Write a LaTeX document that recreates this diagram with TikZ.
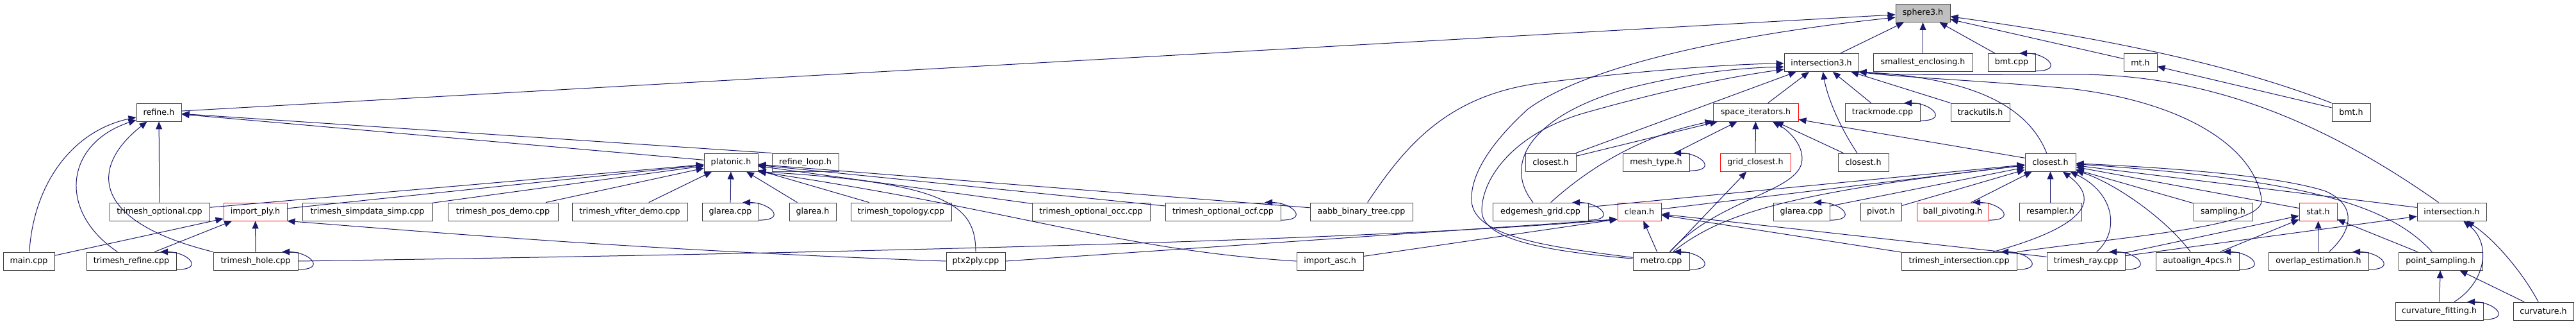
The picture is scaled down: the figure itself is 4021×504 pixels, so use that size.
\documentclass[tikz,border=0pt]{standalone}
\usepackage{fontspec}
\setmainfont{DejaVu Sans}
\usetikzlibrary{arrows.meta,calc}

\definecolor{edgeblue}{HTML}{191970}
\definecolor{rootgray}{HTML}{BFBFBF}
\definecolor{boxred}{HTML}{FF0000}
\definecolor{boxline}{HTML}{404040}

\tikzset{
  filebox/.style={draw=boxline, line width=0.7pt, fill=white, inner sep=0pt,
    minimum height=21pt, font=\fontsize{9.5}{11}\selectfont},
  redbox/.style={draw=boxred},
  rootbox/.style={fill=rootgray},
  inc/.style={draw=edgeblue, line width=0.75pt, -{Triangle[length=9pt,width=7.5pt]}},
}

\newcommand{\filenode}[6][]{%
  \node[filebox,#1,minimum width={(#4-#3)*0.75pt}] (#2) at ({(#3+#4)/2},#5) {#6};}
\newcommand{\selfloop}[1]{%
  \draw[inc] ([yshift=1pt]#1.south east) .. controls +(34pt,0pt) and +(32pt,0pt) .. ([xshift=-19pt]#1.north east);}

\begin{document}
\begin{tikzpicture}[x=0.75pt, y=-0.75pt]
\useasboundingbox (0,0) rectangle (4021,504);
\fill[white] (0,0) rectangle (4021,504);

\filenode[rootbox]{sphere3}{2959}{3044}{20.5}{sphere3.h}

\filenode{isect3}{2785}{2901}{97.5}{intersection3.h}
\filenode{smallenc}{2924}{3079}{97.5}{smallest\_enclosing.h}
\filenode{bmtcpp}{3103}{3177}{97.5}{bmt.cpp}
\filenode{mth}{3315}{3367}{97.5}{mt.h}

\filenode{refine}{213}{283}{175}{refine.h}
\filenode[redbox]{spaceit}{2674}{2807}{175}{space\_iterators.h}
\filenode{trackmode}{2880}{2997}{175}{trackmode.cpp}
\filenode{trackutils}{3045}{3137}{175}{trackutils.h}
\filenode{bmth}{3640}{3700}{175}{bmt.h}

\filenode{platonic}{1099}{1183}{253}{platonic.h}
\filenode{refineloop}{1205}{1309}{253}{refine\_loop.h}
\filenode{closesta}{2381}{2460}{253}{closest.h}
\filenode{meshtype}{2533}{2637}{253}{mesh\_type.h}
\filenode[redbox]{gridclosest}{2685}{2795}{253}{grid\_closest.h}
\filenode{closestb}{2869}{2948}{253}{closest.h}
\filenode{closestc}{3161}{3240}{253}{closest.h}

\filenode{toptional}{171}{327}{330}{trimesh\_optional.cpp}
\filenode[redbox]{importply}{349}{448}{330}{import\_ply.h}
\filenode{simpdata}{472}{675}{330}{trimesh\_simpdata\_simp.cpp}
\filenode{posdemo}{699}{871}{330}{trimesh\_pos\_demo.cpp}
\filenode{vfiter}{893}{1073}{330}{trimesh\_vfiter\_demo.cpp}
\filenode{glareaa}{1096}{1184}{330}{glarea.cpp}
\filenode{glareah}{1232}{1305}{330}{glarea.h}
\filenode{topology}{1328}{1485}{330}{trimesh\_topology.cpp}
\filenode{occ}{1611}{1795}{330}{trimesh\_optional\_occ.cpp}
\filenode{ocf}{1819}{1999}{330}{trimesh\_optional\_ocf.cpp}
\filenode{aabb}{2045}{2205}{330}{aabb\_binary\_tree.cpp}
\filenode{edgegrid}{2330}{2479}{330}{edgemesh\_grid.cpp}
\filenode[redbox]{clean}{2525}{2593}{330}{clean.h}
\filenode{glareab}{2768}{2856}{330}{glarea.cpp}
\filenode{pivot}{2904}{2968}{330}{pivot.h}
\filenode[redbox]{ballpiv}{2992}{3104}{330}{ball\_pivoting.h}
\filenode{resampler}{3152}{3249}{330}{resampler.h}
\filenode{sampling}{3424}{3516}{330}{sampling.h}
\filenode[redbox]{stat}{3589}{3648}{330}{stat.h}
\filenode{isect}{3773}{3881}{330}{intersection.h}

\filenode{maincpp}{5}{85}{407}{main.cpp}
\filenode{trefine}{135}{275}{407}{trimesh\_refine.cpp}
\filenode{thole}{333}{465}{407}{trimesh\_hole.cpp}
\filenode{ptx}{1477}{1569}{407}{ptx2ply.cpp}
\filenode{importasc}{2024}{2128}{407}{import\_asc.h}
\filenode{metro}{2549}{2637}{407}{metro.cpp}
\filenode{tisect}{2968}{3148}{407}{trimesh\_intersection.cpp}
\filenode{tray}{3195}{3317}{407}{trimesh\_ray.cpp}
\filenode{autoalign}{3365}{3495}{407}{autoalign\_4pcs.h}
\filenode{overlap}{3541}{3697}{407}{overlap\_estimation.h}
\filenode{psampling}{3744}{3875}{407}{point\_sampling.h}

\filenode{curvfit}{3739}{3876}{485}{curvature\_fitting.h}
\filenode{curvature}{3923}{4017}{485}{curvature.h}

\draw[inc] (maincpp) .. controls (52,290) and (110,205) .. (refine);
\draw[inc] (trefine) .. controls (90,330) and (100,225) .. (refine);
\draw[inc] (thole.north west) .. controls (140,345) and (140,260) .. (refine);
\draw[inc] (toptional) -- (refine);
\draw[inc] (platonic) -- (refine);
\draw[inc] (refineloop.north west) -- (refine);
\draw[inc] (refine) -- (sphere3);

\foreach \src in {maincpp,trefine,thole}
  \draw[inc] (\src) -- (importply);
\draw[inc] (ptx.west) .. controls (1000,390) and (650,360) .. (importply.south east);

\foreach \src in {toptional,importply,simpdata,posdemo,vfiter,glareaa,glareah,topology,occ,ocf,aabb}
  \draw[inc] (\src) -- (platonic);
\draw[inc] (importasc.west) .. controls (1750,390) and (1600,330) .. (platonic.south east);
\draw[inc] (ptx.north) .. controls (1523,320) and (1480,285) .. (platonic.south east);

\draw[inc] (thole.east) .. controls (1500,392) and (2200,370) .. ([yshift=2pt]clean.south west);
\draw[inc] (ptx.east) -- ([yshift=2pt]clean.south west);
\draw[inc] (importasc) -- ([yshift=2pt]clean.south west);
\foreach \src in {metro,tisect,tray}
  \draw[inc] (\src) -- (clean);

\foreach \src in {clean,edgegrid,glareab,pivot,ballpiv,resampler,sampling,stat,isect}
  \draw[inc] (\src) -- (closestc);
\draw[inc] (metro) .. controls (2690,330) and (2800,300) .. (closestc);
\draw[inc] (tisect) .. controls (3230,360) and (3290,320) .. (closestc);
\draw[inc] (tray) .. controls (3310,360) and (3300,300) .. (closestc);
\draw[inc] (autoalign) .. controls (3380,340) and (3300,285) .. (closestc);
\draw[inc] (psampling) .. controls (3730,320) and (3600,280) .. (closestc);
\draw[inc] (overlap) .. controls (3672,360) and (3680,320) .. (3630,298)
  .. controls (3560,275) and (3400,262) .. (closestc);

\foreach \src in {overlap,psampling,tray,autoalign}
  \draw[inc] (\src) -- (stat);

\draw[inc] (tray) -- (isect);
\draw[inc] (curvfit) .. controls (3880,440) and (3890,380) .. (isect);
\draw[inc] (curvature) .. controls (3935,420) and (3890,370) .. (isect);
\draw[inc] (curvfit) -- (psampling);
\draw[inc] (curvature) -- (psampling);

\draw[inc] (isect) .. controls (3600,170) and (3420,116) .. (3240,116)
  .. controls (3080,116) and (2960,118) .. (isect3.south east);
\draw[inc] (tisect.north east) .. controls (3350,365) and (3538,352) .. (3530,310)
  .. controls (3520,235) and (3420,160) .. (3230,138)
  .. controls (3100,126) and (2960,120) .. (isect3.south east);
\draw[inc] (closestc) .. controls (3165,165) and (3080,122) .. (isect3.south east);
\foreach \src in {trackmode,trackutils,spaceit,closesta}
  \draw[inc] (\src) -- (isect3);
\draw[inc] (closestb) .. controls (2870,195) and (2852,150) .. (isect3);
\draw[inc] (edgegrid) .. controls (2345,255) and (2390,180) .. (2540,138)
  .. controls (2630,115) and (2710,106) .. ([yshift=-5pt]isect3.west);
\draw[inc] (metro) .. controls (2420,392) and (2315,375) .. (2313,330)
  .. controls (2312,280) and (2360,210) .. (2470,177)
  .. controls (2600,140) and (2710,118) .. ([yshift=-8pt]isect3.west);
\draw[inc] (aabb) .. controls (2195,225) and (2260,150) .. (2400,130)
  .. controls (2560,110) and (2700,100) .. ([yshift=-1pt]isect3.west);
\draw[inc] (metro) .. controls (2420,385) and (2300,370) .. (2297,313)
  .. controls (2295,270) and (2330,220) .. (2385,170)
  .. controls (2480,100) and (2720,52) .. ([yshift=-5pt]sphere3.west);

\draw[inc] (edgegrid) .. controls (2480,262) and (2560,212) .. (spaceit);
\foreach \src in {closesta,meshtype,gridclosest,closestb,closestc}
  \draw[inc] (\src) -- (spaceit);
\draw[inc] (metro) .. controls (2680,312) and (2800,300) .. (2812,255)
  .. controls (2818,230) and (2795,205) .. (spaceit);
\draw[inc] (metro) -- (gridclosest);

\foreach \src in {isect3,smallenc,bmtcpp,mth}
  \draw[inc] (\src) -- (sphere3);
\draw[inc] (bmth.north west) .. controls (3560,130) and (3400,75) .. ([yshift=-4pt]sphere3.east);
\draw[inc] (bmth) -- (mth);

\foreach \n in {trefine,thole,glareaa,ocf,edgegrid,trackmode,meshtype,glareab,ballpiv,metro,tisect,bmtcpp,tray,autoalign,overlap,curvfit}
  \selfloop{\n};
\end{tikzpicture}
\end{document}
